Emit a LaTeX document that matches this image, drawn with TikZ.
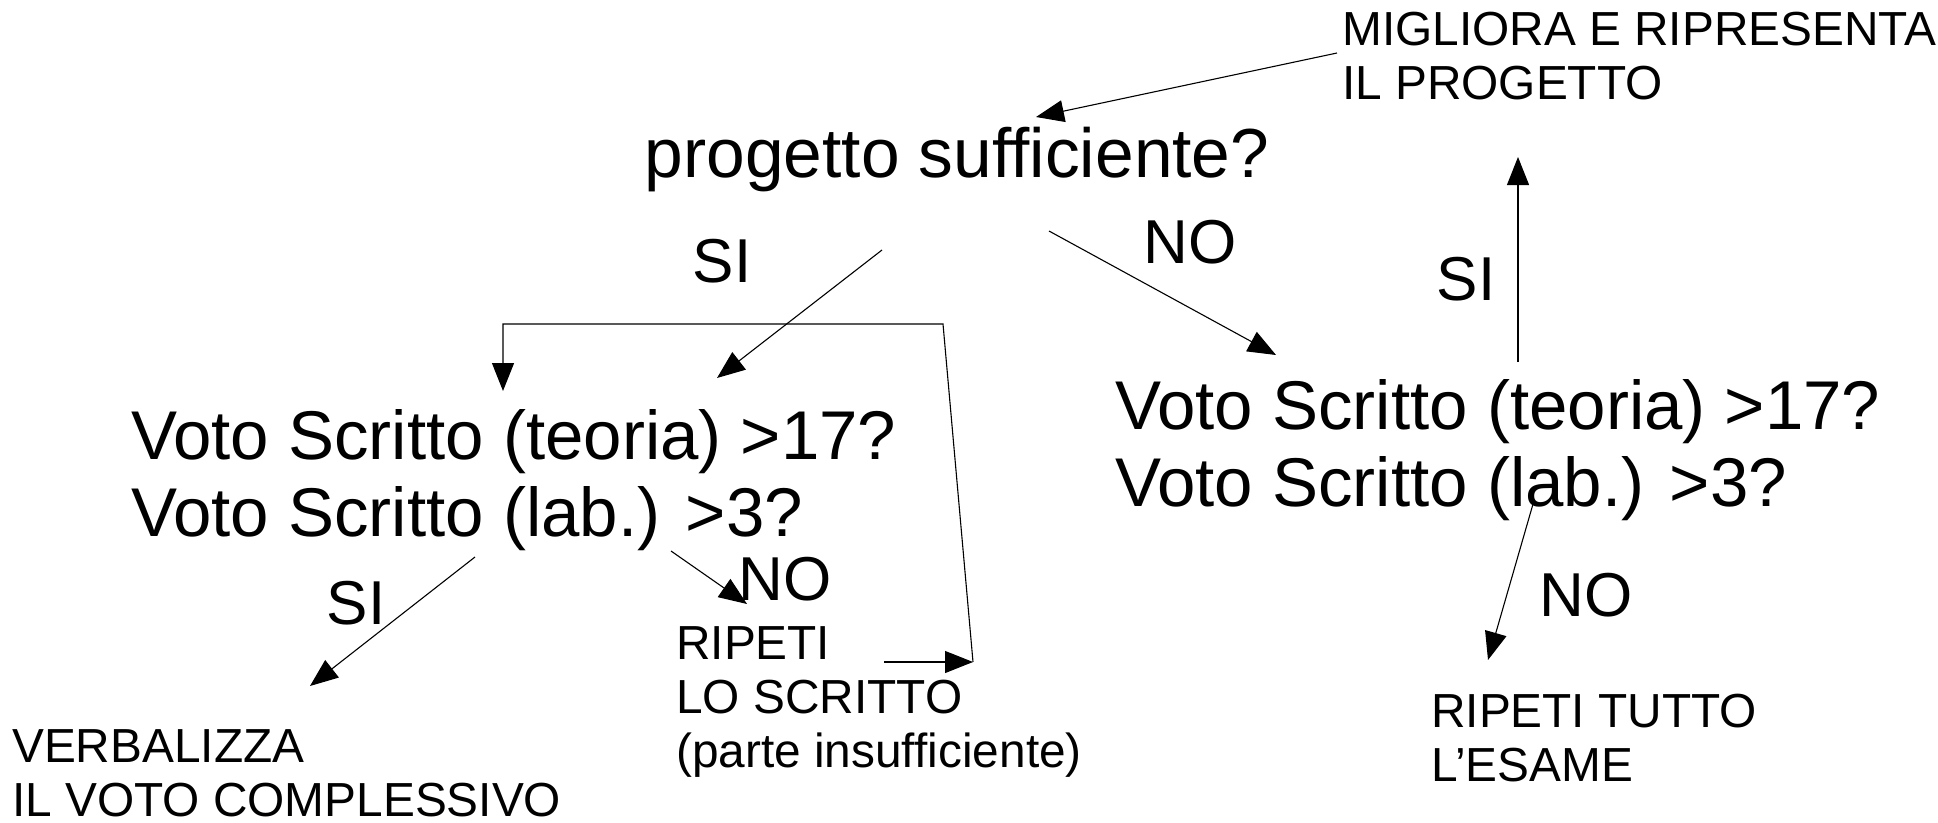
\documentclass[tikz,border=0pt]{standalone}
\usepackage{fontspec}
\setmainfont{Liberation Sans}
\usetikzlibrary{arrows.meta}
\begin{document}
\begin{tikzpicture}[x=1pt,y=-1pt,
  arr/.style={-{Triangle[length=28pt,width=22pt]}, line width=1.1pt},
  big/.style={font=\fontsize{69}{77}\selectfont, inner sep=0pt, anchor=base west, align=left},
  mid/.style={font=\fontsize{69.5}{78}\selectfont, inner sep=0pt, anchor=base},
  lbl/.style={font=\fontsize{62}{70}\selectfont, inner sep=0pt, anchor=base},
  small/.style={font=\fontsize{47.8}{54}\selectfont, inner sep=0pt, anchor=base west, align=left}]
\useasboundingbox (0,0) rectangle (1938,822);
% multi-line nodes are placed by the baseline of their last line
\node[mid] (q1) at (957,177) {progetto sufficiente?};
\node[lbl] (si1) at (722,282) {SI};
\node[lbl] (no1) at (1190,263) {NO};
\node[lbl] (si2) at (1466,300) {SI};
\node[big] (q2) at (131,536) {Voto Scritto (teoria) >17?\\Voto Scritto (lab.) >3?};
\node[big] (q3) at (1115,506) {Voto Scritto (teoria) >17?\\Voto Scritto (lab.) >3?};
\node[lbl] (si3) at (356,624) {SI};
\node[lbl] (no2) at (785,600) {NO};
\node[lbl] (no3) at (1586,616) {NO};
\node[small] (ripeti) at (676,767) {RIPETI\\LO SCRITTO\\(parte insufficiente)};
\node[small] (verb) at (12,816) {VERBALIZZA\\IL VOTO COMPLESSIVO};
\node[small] (tutto) at (1431,781) {RIPETI TUTTO\\L’ESAME};
\node[small] (migl) at (1342,99) {MIGLIORA E RIPRESENTA\\IL PROGETTO};
% connector end points
\coordinate (a1s) at (1337,53);  \coordinate (a1e) at (1036,117);
\coordinate (a2s) at (882,250);  \coordinate (a2e) at (717,378);
\coordinate (a3s) at (1049,231); \coordinate (a3e) at (1276,355);
\coordinate (a4s) at (1518,362); \coordinate (a4e) at (1518,157);
\coordinate (a5s) at (1533,504); \coordinate (a5e) at (1488,660);
\coordinate (a6s) at (475,557);  \coordinate (a6e) at (310,686);
\coordinate (a7s) at (671,551);  \coordinate (a7e) at (747,604);
\coordinate (l1) at (884,662);   \coordinate (l2) at (973,662);
\coordinate (l3) at (943,324);   \coordinate (l4) at (503,324);
\coordinate (l5) at (503,391);
\draw[arr] (a1s) -- (a1e);
\draw[arr] (a2s) -- (a2e);
\draw[arr] (a3s) -- (a3e);
\draw[arr] (a4s) -- (a4e);
\draw[arr] (a5s) -- (a5e);
\draw[arr] (a6s) -- (a6e);
\draw[arr] (a7s) -- (a7e);
\draw[arr] (l1) -- (l2);
\draw[arr] (l2) -- (l3) -- (l4) -- (l5);
\end{tikzpicture}
\end{document}
